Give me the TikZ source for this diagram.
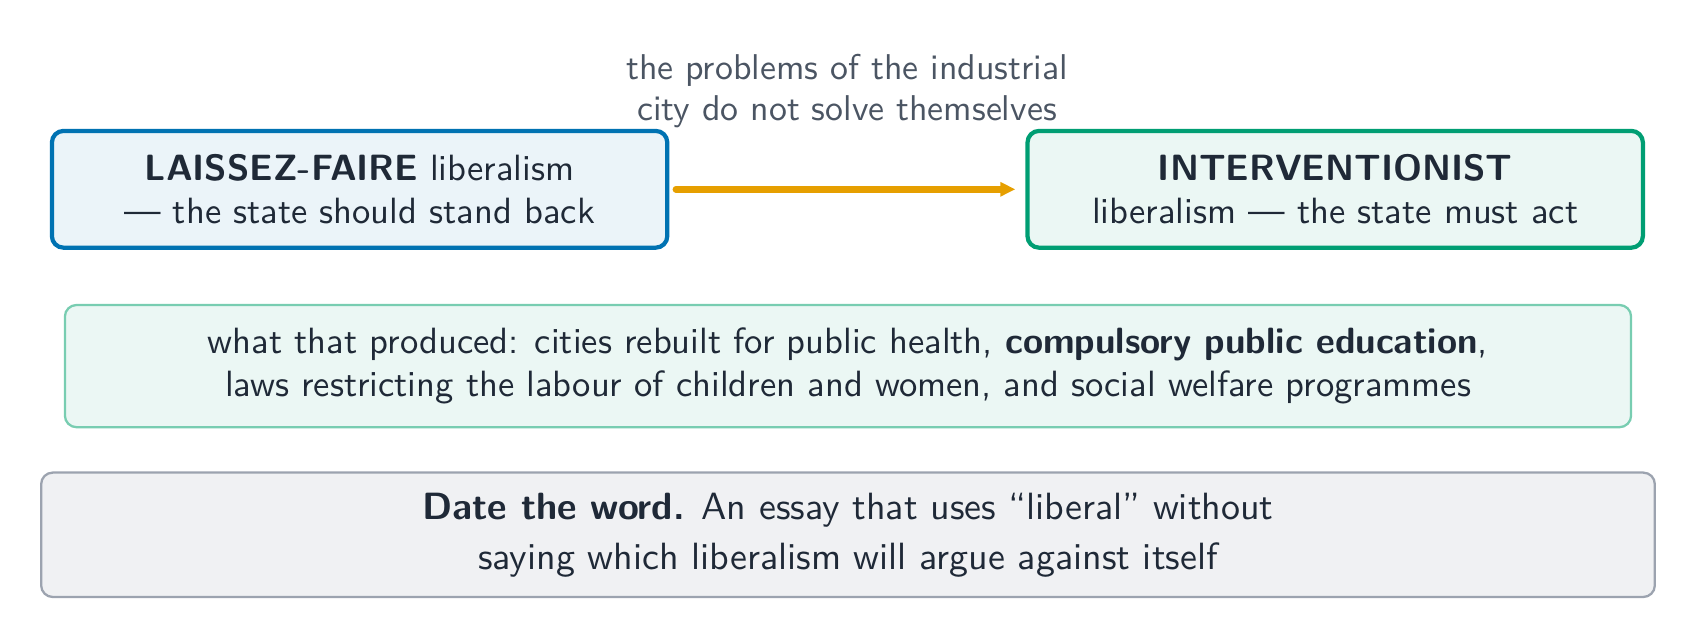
\documentclass[tikz,border=0pt]{standalone}
\usepackage{tikz}
\usetikzlibrary{arrows.meta}
\definecolor{inkdark}{HTML}{1F2937}
\definecolor{inkgray}{HTML}{4B5563}
\definecolor{okblue}{HTML}{0072B2}
\definecolor{okgreen}{HTML}{009E73}
\definecolor{okorange}{HTML}{E69F00}
\definecolor{softgreen}{HTML}{78CDB1}
\definecolor{softgray}{HTML}{9CA3AF}
\begin{document}
\begin{tikzpicture}[font=\sffamily\fontsize{10.4}{12.1}\selectfont, text=inkdark,
    box/.style={rounded corners=3.3pt, align=center, inner sep=0pt},
    era/.style={box, line width=1.2pt, minimum width=6.154cm, minimum height=1.168cm}]
  \useasboundingbox (0,0) rectangle (16.96,-6.41);
  \node[era, draw=okblue, fill=okblue!8] (laissez) at (3.596,-1.893)
    {\textbf{LAISSEZ-FAIRE} liberalism\\--- the state should stand back};
  \node[era, draw=okgreen, fill=okgreen!8] (interv) at (13.352,-1.893)
    {\textbf{INTERVENTIONIST}\\liberalism --- the state must act};
  \draw[okorange, line width=1.9pt, line cap=round, -{Triangle[length=4.3pt,width=3.9pt]}]
    ([xshift=0.065cm]laissez.east) -- ([xshift=-0.1cm]interv.west);
  \node[align=center, text=inkgray, font=\sffamily\fontsize{10.2}{11.7}\selectfont] (cause) at (8.47,-0.909)
    {the problems of the industrial\\city do not solve themselves};
  % what came of it
  \node[box, line width=0.65pt, draw=softgreen, fill=okgreen!8, minimum width=15.662cm, minimum height=1.222cm] (result) at (8.48,-3.661)
    {what that produced: cities rebuilt for public health, \textbf{compulsory public education},\\laws restricting the labour of children and women, and social welfare programmes};
  % the moral
  \node[box, line width=0.65pt, draw=softgray, fill=softgray!15, minimum width=16.137cm, minimum height=1.244cm, font=\sffamily\fontsize{10.8}{14.2}\selectfont] (moral) at (8.48,-5.348)
    {\textbf{Date the word.} An essay that uses ``liberal'' without\\saying which liberalism will argue against itself};
\end{tikzpicture}
\end{document}
